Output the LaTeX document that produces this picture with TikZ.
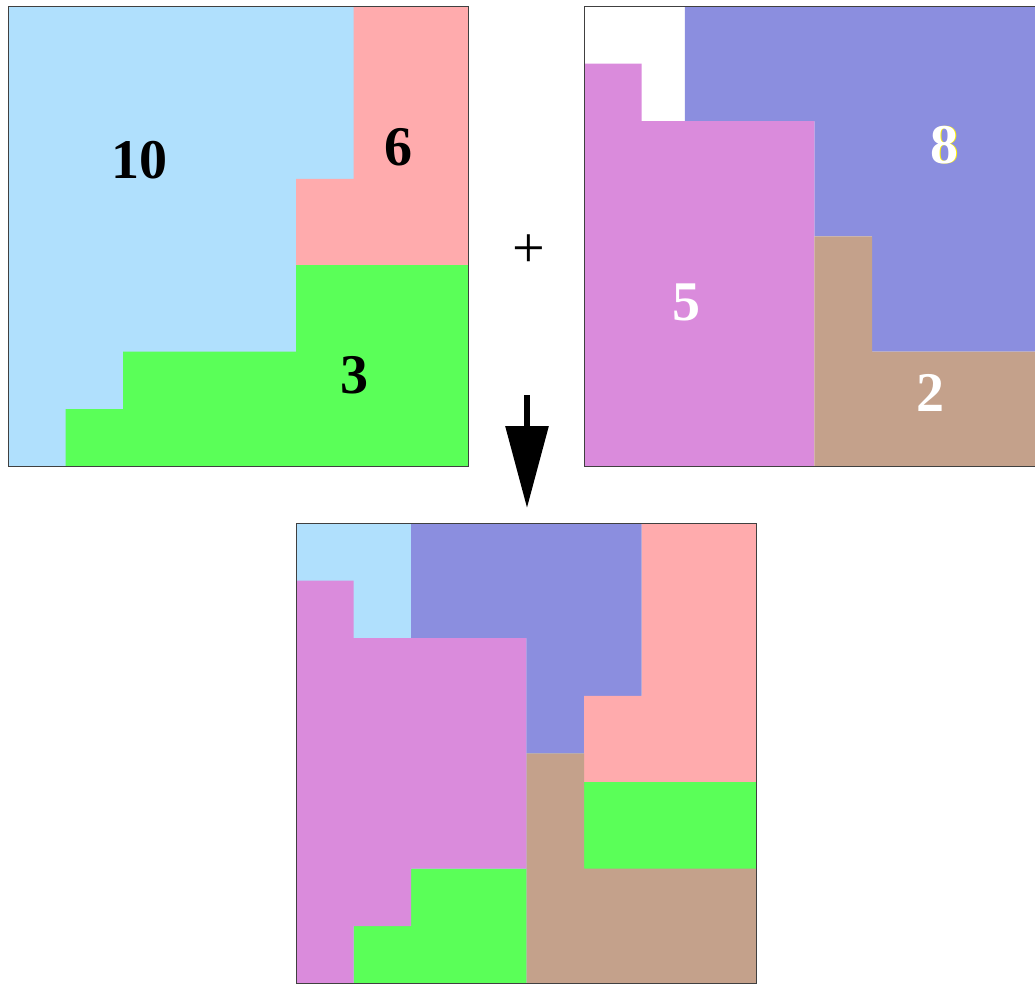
\documentclass[tikz,border=0pt]{standalone}
\usepackage{fontspec}
\setmainfont{Liberation Serif}
\usepackage{xcolor}
\usetikzlibrary{arrows.meta}
\definecolor{skyc}    {HTML}{B0E0FD}
\definecolor{salmonc} {HTML}{FFABAD}
\definecolor{limec}   {HTML}{5AFF58}
\definecolor{lavc}    {HTML}{8B8EDF}
\definecolor{orchidc} {HTML}{DA8BDC}
\definecolor{tanc}    {HTML}{C4A18B}
\tikzset{
  frame/.style    = {draw=black!75, line width=0.9pt},
  num/.style      = {font=\bfseries\fontsize{56}{56}\selectfont, inner sep=0pt},
  numw/.style     = {num, text=white},
  sumarrow/.style = {line width=6pt, -{Triangle[length=82pt,width=42pt]}},
}

\begin{document}
\begin{tikzpicture}[x=28.8pt, y=-28.8pt]
  \useasboundingbox (0pt,0pt) rectangle (1035pt,-985pt);
  \clip (0pt,0pt) rectangle (1035pt,-985pt);

  % left tiling
  \begin{scope}[shift={(8pt,-6pt)}]
    \fill[skyc] (0,0) rectangle (16,16);
    \fill[salmonc] (12,0) -- (16,0) -- (16,9) -- (10,9) -- (10,6) -- (12,6) -- cycle;
    \fill[limec] (10,9) -- (16,9) -- (16,16) -- (2,16) -- (2,14) -- (4,14) -- (4,12) -- (10,12) -- cycle;
    \draw[frame] (0,0) rectangle (16,16);
  \end{scope}
  \node[num] (ten) at (139pt,-160pt) {10};
  \node[num] (six) at (398pt,-147pt) {6};
  \node[num] (three) at (354pt,-375pt) {3};

  % right tiling
  \begin{scope}[shift={(584pt,-6pt)}]
    \fill[lavc] (3.5,0) -- (16,0) -- (16,12) -- (10,12) -- (10,8) -- (8,8) -- (8,4) -- (3.5,4) -- cycle;
    \fill[orchidc] (0,2) -- (2,2) -- (2,4) -- (8,4) -- (8,16) -- (0,16) -- cycle;
    \fill[tanc] (8,8) -- (10,8) -- (10,12) -- (16,12) -- (16,16) -- (8,16) -- cycle;
    \draw[frame] (0,0) rectangle (16,16);
  \end{scope}
  \node[num, text=yellow] (eightshade) at (945.5pt,-145pt) {8};
  \node[numw] (eight) at (944pt,-145pt) {8};
  \node[numw] (five) at (686pt,-302pt) {5};
  \node[numw] (two) at (930pt,-393pt) {2};

  % plus and arrow
  \node[font=\fontsize{58}{58}\selectfont, inner sep=0pt] (plus) at (529pt,-251pt) {+};
  \coordinate (arrtop) at (527pt,-395pt);
  \coordinate (arrtip) at (527pt,-508pt);
  \draw[sumarrow] (arrtop) -- (arrtip);

  % combined tiling
  \begin{scope}[shift={(296pt,-523pt)}]
    \fill[skyc] (0,0) rectangle (16,16);
    \fill[lavc] (4,0) -- (12,0) -- (12,6) -- (10,6) -- (10,8) -- (8,8) -- (8,4) -- (4,4) -- cycle;
    \fill[salmonc] (12,0) -- (16,0) -- (16,9) -- (10,9) -- (10,6) -- (12,6) -- cycle;
    \fill[limec] (10,9) rectangle (16,12);
    \fill[tanc] (8,8) -- (10,8) -- (10,12) -- (16,12) -- (16,16) -- (8,16) -- cycle;
    \fill[limec] (4,12) -- (8,12) -- (8,16) -- (2,16) -- (2,14) -- (4,14) -- cycle;
    \fill[orchidc] (0,2) -- (2,2) -- (2,4) -- (8,4) -- (8,12) -- (4,12) -- (4,14) -- (2,14) -- (2,16) -- (0,16) -- cycle;
    \draw[frame] (0,0) rectangle (16,16);
  \end{scope}
\end{tikzpicture}
\end{document}
